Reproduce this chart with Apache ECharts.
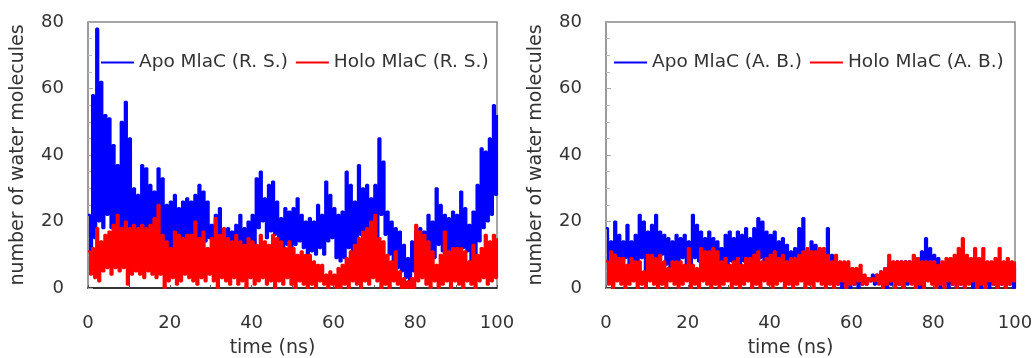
<!DOCTYPE html>
<html>
<head>
<meta charset="utf-8">
<script src="https://cdn.jsdelivr.net/npm/echarts@6/dist/echarts.min.js"></script>
<style>
  html, body { margin: 0; padding: 0; background: #fff; }
  #echarts { width: 1035px; height: 358px; }
</style>
</head>
<body>
<div id="echarts"></div>
<script>
// time in ns, one sample per ns (peak and trough of the noisy trace)
const times = [...Array(101).keys()];
const xTicks = [0, 20, 40, 60, 80, 100];
const yTicks = [0, 20, 40, 60, 80];

// R. S. panel
const apoRSHigh = [22, 58, 78, 62, 52, 51, 43, 37, 50, 56, 45, 30, 28, 37, 36, 31, 29, 36, 33, 25,
  26, 28, 24, 26, 27, 26, 28, 31, 29, 26, 19, 22, 24, 17, 18, 17, 19, 22, 18, 20,
  22, 33, 35, 27, 31, 32, 26, 21, 24, 23, 24, 27, 22, 20, 21, 20, 25, 22, 32, 28,
  24, 22, 23, 35, 31, 26, 37, 30, 31, 27, 31, 45, 38, 23, 20, 18, 17, 13, 9, 14,
  17, 18, 17, 22, 20, 30, 25, 22, 21, 23, 22, 29, 24, 19, 23, 31, 42, 41, 45, 55, 52];
const apoRSLow = [10, 15, 20, 18, 22, 18, 17, 14, 16, 15, 13, 14, 13, 15, 16, 14, 12, 15, 13, 12,
  12, 14, 11, 13, 12, 13, 14, 15, 14, 15, 10, 12, 13, 10, 9, 10, 11, 12, 10, 11,
  12, 18, 20, 15, 17, 16, 13, 12, 13, 12, 13, 14, 12, 10, 11, 10, 12, 10, 14, 15,
  9, 8, 9, 12, 10, 10, 16, 13, 15, 12, 14, 22, 16, 10, 8, 6, 5, 3, 2, 5,
  8, 9, 8, 10, 9, 13, 11, 9, 10, 11, 10, 12, 11, 8, 10, 14, 18, 20, 22, 28, 30];
const holoRSHigh = [11, 12, 18, 14, 16, 17, 19, 22, 18, 20, 18, 19, 18, 19, 18, 19, 21, 25, 16, 14,
  12, 17, 16, 15, 16, 16, 20, 15, 17, 12, 15, 21, 16, 18, 15, 14, 16, 14, 13, 15,
  14, 13, 16, 14, 13, 16, 15, 14, 12, 14, 12, 10, 11, 10, 10, 8, 7, 7, 4, 5,
  4, 6, 7, 9, 11, 13, 15, 17, 18, 20, 22, 15, 14, 10, 8, 11, 5, 3, 2, 3,
  19, 17, 16, 14, 11, 7, 10, 17, 11, 12, 12, 12, 11, 8, 13, 10, 12, 16, 14, 16, 15];
const holoRSLow = [4, 3, 2, 5, 6, 4, 6, 5, 6, 1, 4, 5, 4, 3, 5, 4, 3, 4, 0, 2,
  3, 1, 2, 4, 3, 2, 1, 3, 2, 4, 2, 0, 3, 2, 1, 3, 1, 2, 0, 3,
  1, 2, 3, 1, 2, 0, 2, 1, 3, 1, 0, 2, 1, 0, 1, 0, 2, 1, 0, 1,
  0, 0, 1, 0, 2, 1, 0, 2, 1, 3, 2, 0, 1, 0, 2, 1, 0, 0, 0, 0,
  2, 3, 1, 0, 2, 0, 1, 2, 0, 2, 1, 0, 2, 1, 0, 2, 3, 1, 2, 3, 4];

// A. B. panel
const apoABHigh = [18, 14, 20, 16, 14, 19, 14, 16, 22, 20, 17, 19, 22, 17, 16, 15, 14, 16, 15, 16,
  14, 22, 19, 17, 15, 17, 15, 14, 12, 16, 17, 15, 17, 16, 18, 15, 18, 21, 20, 17,
  16, 17, 14, 15, 13, 11, 12, 18, 21, 11, 14, 13, 11, 10, 18, 10, 8, 7, 7, 6,
  5, 4, 4, 3, 3, 4, 4, 5, 6, 7, 7, 8, 8, 8, 8, 8, 9, 11, 15, 12,
  10, 9, 7, 7, 6, 5, 6, 5, 6, 5, 6, 5, 6, 5, 6, 5, 6, 5, 6, 5, 6];
const apoABLow = [3, 1, 8, 7, 9, 6, 8, 7, 9, 5, 8, 9, 8, 10, 7, 6, 8, 7, 9, 6,
  7, 9, 8, 7, 6, 8, 7, 6, 5, 7, 8, 6, 7, 8, 6, 7, 8, 9, 8, 7,
  6, 7, 5, 6, 5, 4, 5, 7, 8, 4, 5, 6, 4, 3, 5, 2, 1, 0, 1, 0,
  1, 0, 1, 1, 2, 1, 2, 1, 0, 1, 2, 1, 0, 1, 2, 1, 0, 2, 4, 3,
  1, 0, 1, 0, 1, 0, 1, 0, 2, 0, 1, 0, 1, 0, 1, 0, 1, 0, 1, 0, 1];
const holoABHigh = [8, 11, 10, 9, 9, 7, 9, 8, 8, 5, 10, 10, 9, 10, 8, 6, 8, 8, 8, 7,
  12, 7, 6, 12, 11, 11, 12, 11, 8, 9, 7, 8, 9, 7, 9, 9, 10, 11, 8, 9,
  10, 11, 9, 10, 8, 9, 9, 10, 11, 12, 11, 11, 12, 12, 10, 8, 10, 8, 8, 8,
  6, 6, 7, 4, 3, 3, 4, 5, 6, 10, 8, 8, 8, 8, 8, 10, 9, 8, 8, 8,
  8, 7, 8, 9, 9, 10, 12, 15, 10, 9, 12, 9, 12, 8, 8, 9, 12, 8, 9, 8, 8];
const holoABLow = [1, 0, 2, 1, 0, 1, 2, 0, 1, 0, 2, 1, 0, 1, 0, 2, 1, 0, 1, 2,
  0, 1, 0, 2, 1, 0, 1, 0, 1, 2, 0, 1, 0, 1, 2, 0, 1, 0, 2, 1,
  0, 1, 2, 0, 1, 0, 1, 2, 0, 1, 0, 2, 1, 0, 1, 0, 1, 2, 0, 1,
  1, 2, 1, 1, 2, 2, 1, 0, 1, 2, 0, 1, 0, 2, 1, 0, 1, 0, 2, 1,
  0, 1, 0, 2, 1, 0, 1, 0, 1, 2, 0, 1, 0, 2, 1, 0, 1, 0, 1, 2, 0];

// peak at each ns, trough half a ns later
const zigzag = (high, low) => {
  const d = [];
  times.forEach((t, i) => {
    d.push([t, high[i]]);
    if (i < times.length - 1) d.push([t + 0.5, low[i]]);
  });
  return d;
};

const font = '"DejaVu Sans", sans-serif';
const textColor = '#333';

const makeX = (gridIndex) => ({
  type: 'value',
  gridIndex,
  min: xTicks[0],
  max: xTicks[xTicks.length - 1],
  interval: 20,
  name: 'time (ns)',
  nameLocation: 'middle',
  nameGap: 51,
  nameTextStyle: { fontFamily: font, fontSize: 19, color: textColor, padding: [0, 40, 0, 0] },
  axisLabel: { fontFamily: font, fontSize: 18, color: textColor, margin: 26 },
  axisLine: { show: true, onZero: false, lineStyle: { color: '#111', width: 1.5 } },
  axisTick: { show: true, inside: true, length: 3, lineStyle: { color: '#555' } },
  minorTick: { show: true, splitNumber: 2, length: 3, lineStyle: { color: '#555' } },
  splitLine: { show: false },
});

const makeY = (gridIndex) => ({
  type: 'value',
  gridIndex,
  min: yTicks[0],
  max: yTicks[yTicks.length - 1],
  interval: 20,
  name: 'number of water molecules',
  nameLocation: 'middle',
  nameGap: 60,
  nameTextStyle: { fontFamily: font, fontSize: 19, color: textColor },
  axisLabel: { fontFamily: font, fontSize: 18, color: textColor, margin: 24 },
  axisLine: { show: true, lineStyle: { color: '#999', width: 1.5 } },
  axisTick: { show: true, inside: true, length: 5, lineStyle: { color: '#aaa' } },
  minorTick: { show: true, splitNumber: 4, length: 4, lineStyle: { color: '#bbb' } },
  splitLine: { show: false },
});

const makeSeries = (name, color, gridIndex, high, low) => ({
  name,
  type: 'line',
  xAxisIndex: gridIndex,
  yAxisIndex: gridIndex,
  step: 'end',
  showSymbol: false,
  symbol: 'none',
  lineStyle: { color, width: 2.2 },
  itemStyle: { color },
  data: zigzag(high, low),
});

const legendBase = {
  icon: 'rect',
  itemWidth: 33,
  itemHeight: 2,
  itemGap: 8,
  top: 48,
  textStyle: { fontFamily: font, fontSize: 18.5, color: textColor },
};

const gridBase = {
  top: 22,
  width: 409,
  height: 266,
  show: true,
  borderColor: '#888',
  borderWidth: 1.5,
  outerBoundsMode: 'none',
};

const myChart = echarts.init(document.getElementById('echarts'), null, { renderer: 'canvas' });
myChart.setOption({
  animation: false,
  backgroundColor: '#fff',
  grid: [
    Object.assign({}, gridBase, { left: 88 }),
    Object.assign({}, gridBase, { left: 606 }),
  ],
  legend: [
    Object.assign({}, legendBase, { left: 96, data: ['Apo MlaC (R. S.)', 'Holo MlaC (R. S.)'] }),
    Object.assign({}, legendBase, { left: 609, data: ['Apo MlaC (A. B.)', 'Holo MlaC (A. B.)'] }),
  ],
  xAxis: [makeX(0), makeX(1)],
  yAxis: [makeY(0), makeY(1)],
  series: [
    makeSeries('Apo MlaC (R. S.)', '#0000ff', 0, apoRSHigh, apoRSLow),
    makeSeries('Holo MlaC (R. S.)', '#ff0000', 0, holoRSHigh, holoRSLow),
    makeSeries('Apo MlaC (A. B.)', '#0000ff', 1, apoABHigh, apoABLow),
    makeSeries('Holo MlaC (A. B.)', '#ff0000', 1, holoABHigh, holoABLow),
  ],
});
window.addEventListener('resize', myChart.resize);
</script>
</body>
</html>
